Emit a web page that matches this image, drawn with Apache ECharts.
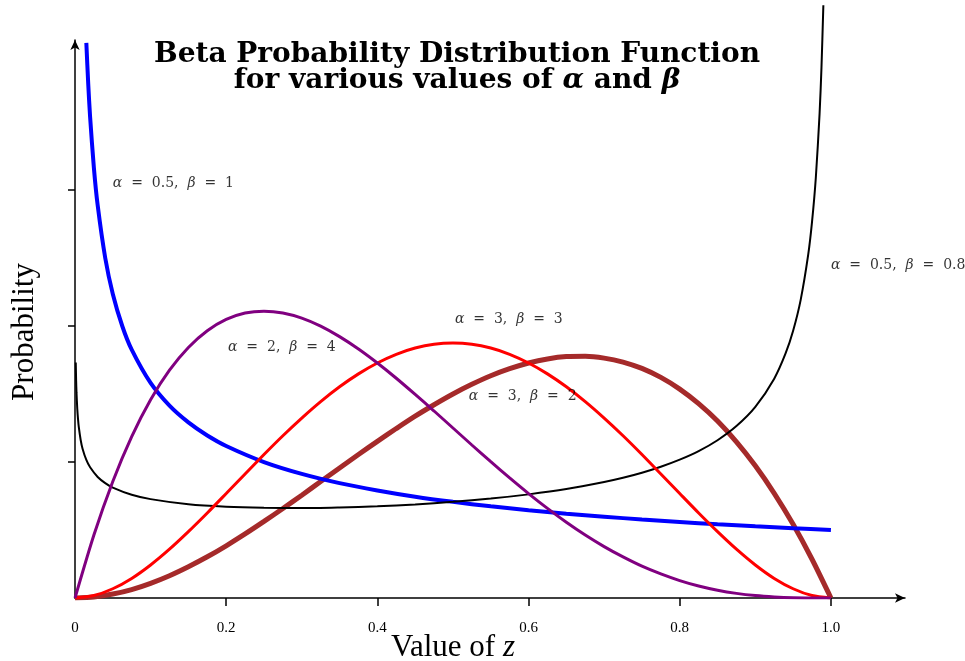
<!DOCTYPE html>
<html>
<head>
<meta charset="utf-8">
<script src="https://cdn.jsdelivr.net/npm/echarts@6/dist/echarts.min.js"></script>
<style>html,body{margin:0;padding:0;background:#fff;overflow:hidden;}#chart{width:965px;height:661px;}</style>
</head>
<body>
<div id="chart"></div>
<script>
// z sample points and read-off densities
const zCommon = [0, 0.025, 0.05, 0.075, 0.1, 0.125, 0.15, 0.175, 0.2, 0.225, 0.25, 0.275, 0.3, 0.325, 0.35, 0.375, 0.4, 0.425, 0.45, 0.475, 0.5,
                 0.525, 0.55, 0.575, 0.6, 0.625, 0.65, 0.675, 0.7, 0.725, 0.75, 0.775, 0.8, 0.825, 0.85, 0.875, 0.9, 0.925, 0.95, 0.975, 1.0];
const pdf_a2_b4 = [0, 0.463, 0.857, 1.187, 1.458, 1.675, 1.842, 1.965, 2.048, 2.095, 2.109, 2.096, 2.058, 1.999, 1.922, 1.831, 1.728, 1.616, 1.497, 1.375, 1.25,
                   1.125, 1.002, 0.883, 0.768, 0.659, 0.557, 0.463, 0.378, 0.302, 0.234, 0.177, 0.128, 0.088, 0.057, 0.034, 0.018, 0.008, 0.002, 0.0003, 0];
const pdf_a3_b3 = [0, 0.018, 0.068, 0.144, 0.243, 0.359, 0.488, 0.625, 0.768, 0.912, 1.055, 1.193, 1.323, 1.444, 1.553, 1.648, 1.728, 1.792, 1.838, 1.866, 1.875,
                   1.866, 1.838, 1.792, 1.728, 1.648, 1.553, 1.444, 1.323, 1.193, 1.055, 0.912, 0.768, 0.625, 0.488, 0.359, 0.243, 0.144, 0.068, 0.018, 0];
const pdf_a3_b2 = [0, 0.007, 0.029, 0.062, 0.108, 0.164, 0.230, 0.303, 0.384, 0.471, 0.563, 0.658, 0.756, 0.856, 0.956, 1.055, 1.152, 1.246, 1.337, 1.421, 1.5,
                   1.571, 1.634, 1.686, 1.728, 1.758, 1.775, 1.777, 1.764, 1.735, 1.688, 1.622, 1.536, 1.429, 1.301, 1.148, 0.972, 0.770, 0.542, 0.285, 0];

const zBlue = [0.015, 0.0175, 0.02, 0.025, 0.03, 0.04, 0.05, 0.0625, 0.075, 0.1, 0.125, 0.15, 0.175, 0.2, 0.25, 0.3, 0.35, 0.4, 0.45, 0.5, 0.55, 0.6, 0.65, 0.7, 0.75, 0.8, 0.85, 0.9, 0.95, 1.0];
const pdf_a05_b1 = [4.082, 3.780, 3.536, 3.162, 2.887, 2.5, 2.236, 2.0, 1.826, 1.581, 1.414, 1.291, 1.195, 1.118, 1.0, 0.913, 0.845, 0.791, 0.745, 0.707, 0.674, 0.645, 0.620, 0.598, 0.577, 0.559, 0.542, 0.527, 0.513, 0.5];

const zBlack = [0.001, 0.0015, 0.002, 0.003, 0.004, 0.005, 0.0075, 0.01, 0.015, 0.02, 0.03, 0.04, 0.05, 0.075, 0.1, 0.15, 0.2, 0.25, 0.3, 0.35, 0.4, 0.45, 0.5, 0.55, 0.6, 0.65, 0.7, 0.725, 0.75, 0.775, 0.8, 0.825, 0.85, 0.875, 0.9, 0.925, 0.94, 0.95, 0.96, 0.97, 0.975, 0.98, 0.985, 0.9875, 0.99];
const pdf_a05_b08 = [1.732, 1.597, 1.508, 1.392, 1.315, 1.258, 1.162, 1.098, 1.015, 0.961, 0.890, 0.845, 0.812, 0.759, 0.727, 0.689, 0.671, 0.663, 0.661, 0.666, 0.674, 0.688, 0.707, 0.731, 0.762, 0.801, 0.853, 0.884, 0.921, 0.965, 1.017, 1.080, 1.160, 1.264, 1.405, 1.613, 1.798, 1.965, 2.192, 2.526, 2.765, 3.088, 3.562, 3.900, 4.358];

const xTicks = [0, 0.2, 0.4, 0.6, 0.8, 1.0];
const xTickLabels = ['0', '0.2', '0.4', '0.6', '0.8', '1.0'];
const yTicks = [1, 2, 3];

// annotation labels: [z, density, alpha, beta]
const annotations = [
  [0.05, 3.05, '0.5', '1'],
  [0.2024, 1.846, '2', '4'],
  [0.5026, 2.05, '3', '3'],
  [0.521, 1.485, '3', '2'],
  [1.0, 2.449, '0.5', '0.8']
];

function zip(xs, ys) { return xs.map((x, i) => [x, ys[i]]); }

const serif = '"DejaVu Serif", "Liberation Serif", serif';
const lserif = '"Liberation Serif", serif';
const chart = echarts.init(document.getElementById('chart'), null, {renderer: 'canvas'});

const option = {
  backgroundColor: '#ffffff',
  animation: false,
  title: {
    text: 'Beta Probability Distribution Function\nfor various values of {g|α} and {g|β}',
    left: 452,
    top: 37,
    textAlign: 'center',
    textStyle: {
      fontFamily: serif, fontWeight: 'bold', fontSize: 28, color: '#000', lineHeight: 26,
      rich: { g: { fontFamily: serif, fontWeight: 'bold', fontStyle: 'italic', fontSize: 28, color: '#000', lineHeight: 26 } }
    }
  },
  grid: { left: 75, right: 60, top: 40, bottom: 63, containLabel: false, outerBoundsMode: 'none' },
  xAxis: {
    type: 'value', min: 0, max: 1.098,
    splitLine: { show: false },
    axisLine: { show: true, onZero: false, symbol: ['none', 'arrow'], symbolSize: [7, 10], lineStyle: { color: '#000', width: 1.5 } },
    axisTick: { show: true, inside: false, length: 8, customValues: xTicks.slice(1), lineStyle: { color: '#000', width: 1.5 } },
    axisLabel: {
      show: true, customValues: xTicks, margin: 23,
      formatter: v => { const i = xTicks.findIndex(t => Math.abs(t - v) < 1e-9); return i >= 0 ? xTickLabels[i] : ''; },
      fontFamily: lserif, fontSize: 15, color: '#000'
    },
    name: 'Value of {i|z}', nameLocation: 'middle', nameGap: 34, nameMoveOverlap: false,
    nameTextStyle: { fontFamily: lserif, fontSize: 31, color: '#000', padding: [0, 74, 0, 0],
      rich: { i: { fontFamily: lserif, fontStyle: 'italic', fontSize: 31, color: '#000' } } }
  },
  yAxis: {
    type: 'value', min: 0, max: 4.103,
    splitLine: { show: false },
    axisLine: { show: true, onZero: false, symbol: ['none', 'arrow'], symbolSize: [7, 10], lineStyle: { color: '#000', width: 1.5 } },
    axisTick: { show: true, length: 7, customValues: yTicks, lineStyle: { color: '#000', width: 1.5 } },
    axisLabel: { show: false },
    name: 'Probability', nameLocation: 'middle', nameRotate: 90, nameGap: 35, nameMoveOverlap: false,
    nameTextStyle: { fontFamily: lserif, fontSize: 31, color: '#000', padding: [0, 26, 0, 0] }
  },
  series: [
    { name: 'a3b2', type: 'line', data: zip(zCommon, pdf_a3_b2), smooth: 0.25, symbol: 'none', lineStyle: { color: '#a52a2a', width: 5 }, z: 2 },
    { name: 'a05b1', type: 'line', data: zip(zBlue, pdf_a05_b1), smooth: 0.25, symbol: 'none', clip: false, lineStyle: { color: '#0000ff', width: 4 }, z: 3 },
    { name: 'a05b08', type: 'line', data: zip(zBlack, pdf_a05_b08), smooth: 0.25, symbol: 'none', clip: false, lineStyle: { color: '#000000', width: 2 }, z: 4 },
    { name: 'a3b3', type: 'line', data: zip(zCommon, pdf_a3_b3), smooth: 0.25, symbol: 'none', lineStyle: { color: '#ff0000', width: 3 }, z: 5 },
    { name: 'a2b4', type: 'line', data: zip(zCommon, pdf_a2_b4), smooth: 0.25, symbol: 'none', lineStyle: { color: '#800080', width: 3 }, z: 6 },
    {
      name: 'labels', type: 'scatter', symbolSize: 0, clip: false, silent: true, z: 7,
      data: annotations.map(a => ({ value: [a[0], a[1]], a: a[2], b: a[3] })),
      label: {
        show: true, position: 'right', distance: 0,
        formatter: p => '{g|α}  =  ' + p.data.a + ',  {g|β}  =  ' + p.data.b,
        fontFamily: serif, fontSize: 14, color: '#000',
        rich: { g: { fontFamily: serif, fontStyle: 'italic', fontSize: 14, color: '#000' } }
      }
    }
  ]
};
chart.setOption(option);
</script>
</body>
</html>
